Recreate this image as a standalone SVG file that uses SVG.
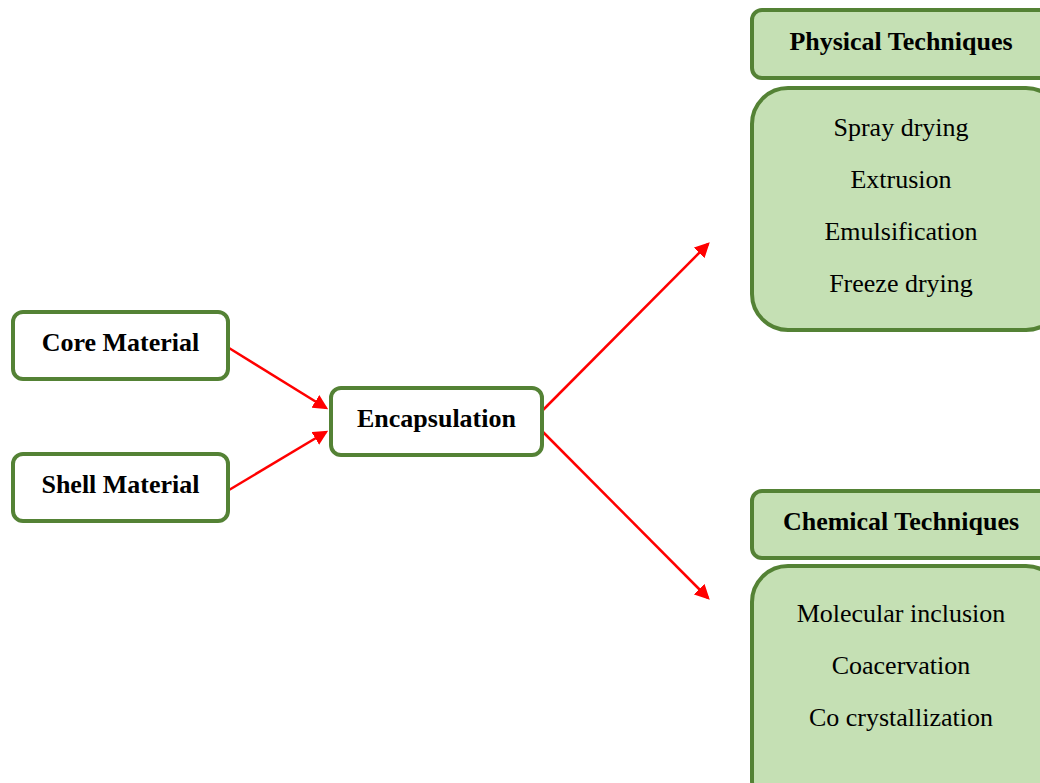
<svg xmlns="http://www.w3.org/2000/svg" width="1040" height="783" viewBox="0 0 1040 783">
<style>
.box{fill:#ffffff;stroke:#548235;stroke-width:4}
.gbox{fill:#c5e0b4;stroke:#548235;stroke-width:4}
.b{font-family:"Liberation Serif",serif;font-weight:bold;font-size:26px;fill:#000;text-anchor:middle}
.r{font-family:"Liberation Serif",serif;font-size:26px;fill:#000;text-anchor:middle}
.c{stroke:#ff0000;stroke-width:2.5;fill:none;marker-end:url(#ah)}
</style>
<defs>
<marker id="ah" markerWidth="6" markerHeight="6" refX="5" refY="3" orient="auto" markerUnits="strokeWidth">
<path d="M0,0 L6,3 L0,6 Z" fill="#ff0000"/>
</marker>
</defs>
<rect width="1040" height="783" fill="#ffffff"/>
<g id="connectors">
<line class="c" x1="229" y1="348" x2="326" y2="408"/>
<line class="c" x1="229" y1="490" x2="326" y2="432"/>
<line class="c" x1="543" y1="410" x2="708" y2="244"/>
<line class="c" x1="543" y1="432" x2="708" y2="598"/>
</g>
<g id="core">
<rect class="box" x="13" y="312" width="215" height="67" rx="10"/>
<text class="b" x="120.5" y="351">Core Material</text>
</g>
<g id="shell">
<rect class="box" x="13" y="454" width="215" height="67" rx="10"/>
<text class="b" x="120.5" y="493">Shell Material</text>
</g>
<g id="encapsulation">
<rect class="box" x="331" y="388" width="211" height="67" rx="10"/>
<text class="b" x="436.5" y="427">Encapsulation</text>
</g>
<g id="physical-header">
<rect class="gbox" x="752" y="10" width="300" height="68" rx="10"/>
<text class="b" x="901" y="50">Physical Techniques</text>
</g>
<g id="physical-list">
<rect class="gbox" x="752" y="88" width="310" height="242" rx="36"/>
<text class="r" x="901" y="136">Spray drying</text>
<text class="r" x="901" y="188">Extrusion</text>
<text class="r" x="901" y="240">Emulsification</text>
<text class="r" x="901" y="292">Freeze drying</text>
</g>
<g id="chemical-header">
<rect class="gbox" x="752" y="491" width="300" height="67" rx="10"/>
<text class="b" x="901" y="530">Chemical Techniques</text>
</g>
<g id="chemical-list">
<rect class="gbox" x="752" y="566" width="310" height="250" rx="36"/>
<text class="r" x="901" y="622">Molecular inclusion</text>
<text class="r" x="901" y="674">Coacervation</text>
<text class="r" x="901" y="726">Co crystallization</text>
</g>
</svg>
